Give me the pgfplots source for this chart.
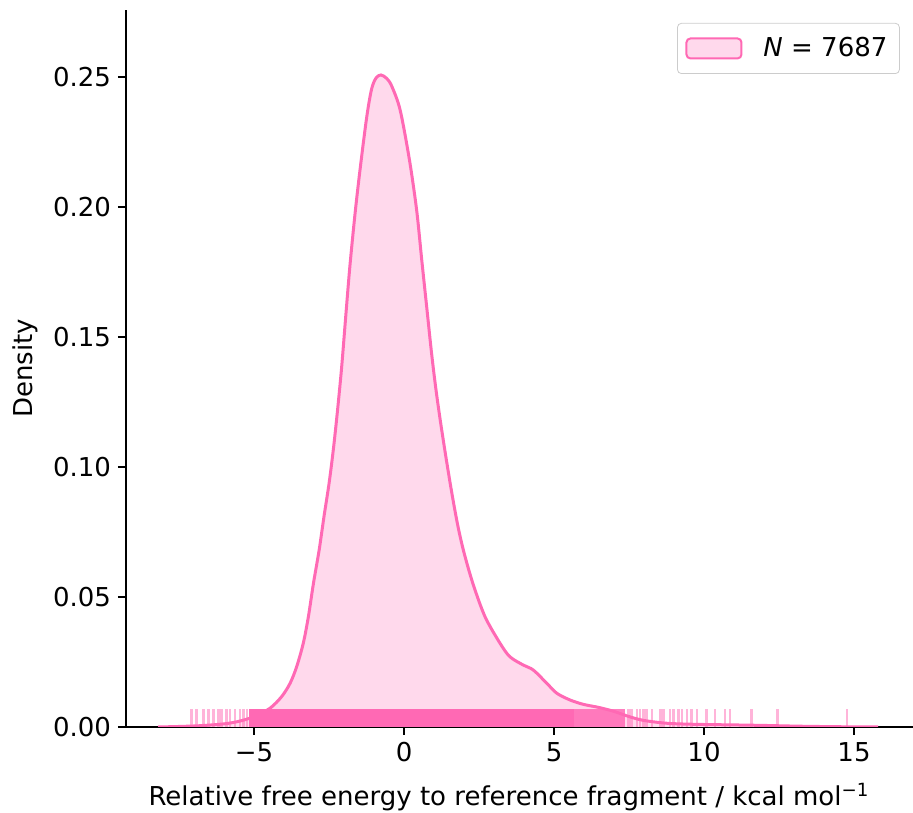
\documentclass[border=0pt]{standalone}
\usepackage{fontspec}
\setmainfont{DejaVu Sans}
\usepackage{pgfplots}
\pgfplotsset{compat=1.18}
\usetikzlibrary{calc}
\definecolor{hotpink}{RGB}{255,105,180}
\definecolor{pinkfill}{RGB}{255,217,236}
\pgfplotsset{pinklegend/.style={legend image code/.code={\draw[#1] (0pt,-5pt) rectangle (27.5pt,5pt); \path (36pt,0pt);}}}
\begin{document}
\begin{tikzpicture}
\begin{axis}[
  scale only axis,
  width=394pt, height=358.5pt,
  xmin=-9.27, xmax=17.0,
  ymin=0, ymax=0.2758,
  axis x line=bottom, axis y line=left,
  axis line style={-, line width=0.9pt, black},
  tick style={line width=0.9pt, black},
  tick align=outside,
  major tick length=4pt,
  xtick={-5,0,5,10,15},
  xticklabels={−5,0,5,10,15},
  ytick={0,0.05,0.10,0.15,0.20,0.25},
  yticklabels={0.00,0.05,0.10,0.15,0.20,0.25},
  ticklabel style={font=\fontsize{13}{15}\selectfont},
  label style={font=\fontsize{13}{15}\selectfont},
  xlabel={Relative free energy to reference fragment / kcal mol\textsuperscript{−1}},
  ylabel={Density},
  xlabel style={at={(rel axis cs:0,0)}, xshift=191.5pt, yshift=-35pt, anchor=center},
  ylabel style={at={(rel axis cs:0,0.5)}, yshift=50.5pt, anchor=center},
  legend style={at={(0.982,0.982)}, anchor=north east, draw=black!20, rounded corners=2pt,
    fill=white, font=\fontsize{13}{15}\selectfont, inner xsep=4pt, inner ysep=5pt},
  legend cell align=left,
]
% KDE fill
\addplot[fill=pinkfill, draw=none, smooth, forget plot] coordinates {
(-8.2,0) (-7.5,0.0002) (-6.8,0.0005) (-6.0,0.0012) (-5.5,0.0022) (-5.0,0.0040)
(-4.47,0.0072) (-4.08,0.0117) (-3.8,0.0168) (-3.58,0.0232) (-3.36,0.0322) (-3.19,0.0424)
(-3.02,0.0553) (-2.83,0.0681) (-2.67,0.0809) (-2.5,0.0937) (-2.36,0.1065) (-2.24,0.1193)
(-2.13,0.1322) (-2.06,0.1412) (-1.93,0.1600) (-1.80,0.1780) (-1.62,0.1990) (-1.44,0.2170)
(-1.24,0.2350) (-1.08,0.2455) (-0.93,0.2497) (-0.77,0.2508) (-0.58,0.2495) (-0.41,0.2465)
(-0.13,0.2373) (0.18,0.2181) (0.42,0.1988) (0.59,0.1796) (0.76,0.1610) (0.91,0.1445)
(1.05,0.1310) (1.2,0.1185) (1.4,0.1035) (1.6,0.0895) (1.8,0.0770) (2.0,0.0670)
(2.3,0.0550) (2.7,0.0424) (3.2,0.0322) (3.53,0.0270) (3.98,0.0238) (4.31,0.0219)
(4.76,0.0168) (5.09,0.0130) (5.53,0.0104) (5.98,0.0087) (6.5,0.0075) (7.0,0.0060)
(7.5,0.0040) (8.0,0.0025) (8.8,0.0014) (9.8,0.0010) (10.97,0.0008) (12.0,0.0006)
(13.2,0.0003) (14.5,0.0001) (15.8,0)
} \closedcycle;
% rug: dense part
\addplot[ycomb, draw=hotpink, line width=1.6pt, mark=none, forget plot] coordinates {
(-5.1,0.0069) (-5.0,0.0069) (-4.9,0.0069) (-4.8,0.0069) (-4.7,0.0069) (-4.6,0.0069)
(-4.5,0.0069) (-4.4,0.0069) (-4.3,0.0069) (-4.2,0.0069) (-4.1,0.0069) (-4.0,0.0069)
(-3.9,0.0069) (-3.8,0.0069) (-3.7,0.0069) (-3.6,0.0069) (-3.5,0.0069) (-3.4,0.0069)
(-3.3,0.0069) (-3.2,0.0069) (-3.1,0.0069) (-3.0,0.0069) (-2.9,0.0069) (-2.8,0.0069)
(-2.7,0.0069) (-2.6,0.0069) (-2.5,0.0069) (-2.4,0.0069) (-2.3,0.0069) (-2.2,0.0069)
(-2.1,0.0069) (-2.0,0.0069) (-1.9,0.0069) (-1.8,0.0069) (-1.7,0.0069) (-1.6,0.0069)
(-1.5,0.0069) (-1.4,0.0069) (-1.3,0.0069) (-1.2,0.0069) (-1.1,0.0069) (-1.0,0.0069)
(-0.9,0.0069) (-0.8,0.0069) (-0.7,0.0069) (-0.6,0.0069) (-0.5,0.0069) (-0.4,0.0069)
(-0.3,0.0069) (-0.2,0.0069) (-0.1,0.0069) (0.0,0.0069) (0.1,0.0069) (0.2,0.0069)
(0.3,0.0069) (0.4,0.0069) (0.5,0.0069) (0.6,0.0069) (0.7,0.0069) (0.8,0.0069)
(0.9,0.0069) (1.0,0.0069) (1.1,0.0069) (1.2,0.0069) (1.3,0.0069) (1.4,0.0069)
(1.5,0.0069) (1.6,0.0069) (1.7,0.0069) (1.8,0.0069) (1.9,0.0069) (2.0,0.0069)
(2.1,0.0069) (2.2,0.0069) (2.3,0.0069) (2.4,0.0069) (2.5,0.0069) (2.6,0.0069)
(2.7,0.0069) (2.8,0.0069) (2.9,0.0069) (3.0,0.0069) (3.1,0.0069) (3.2,0.0069)
(3.3,0.0069) (3.4,0.0069) (3.5,0.0069) (3.6,0.0069) (3.7,0.0069) (3.8,0.0069)
(3.9,0.0069) (4.0,0.0069) (4.1,0.0069) (4.2,0.0069) (4.3,0.0069) (4.4,0.0069)
(4.5,0.0069) (4.6,0.0069) (4.7,0.0069) (4.8,0.0069) (4.9,0.0069) (5.0,0.0069)
(5.1,0.0069) (5.2,0.0069) (5.3,0.0069) (5.4,0.0069) (5.5,0.0069) (5.6,0.0069)
};
% rug: semi-dense part
\addplot[ycomb, draw=hotpink, draw opacity=0.85, line width=1.5pt, mark=none, forget plot] coordinates {
(5.7,0.0069) (5.8,0.0069) (5.9,0.0069) (6.0,0.0069) (6.1,0.0069) (6.2,0.0069)
(6.3,0.0069) (6.4,0.0069) (6.5,0.0069) (6.6,0.0069) (6.7,0.0069) (6.8,0.0069)
(6.9,0.0069) (7.0,0.0069) (7.1,0.0069) (7.2,0.0069) (7.3,0.0069)
};
% rug: sparse tails
\addplot[ycomb, draw=hotpink, draw opacity=0.5, line width=1.3pt, mark=none, forget plot] coordinates {
(-7.08,0.0069) (-6.91,0.0069) (-6.69,0.0069) (-6.52,0.0069) (-6.36,0.0069) (-6.19,0.0069)
(-6.08,0.0069) (-5.91,0.0069) (-5.80,0.0069) (-5.63,0.0069) (-5.47,0.0069) (-5.36,0.0069)
(-5.24,0.0069)
(7.48,0.0069) (7.59,0.0069) (7.76,0.0069) (7.87,0.0069) (7.98,0.0069) (8.09,0.0069)
(8.26,0.0069) (8.54,0.0069) (8.65,0.0069) (8.87,0.0069) (8.98,0.0069) (9.15,0.0069)
(9.26,0.0069) (9.43,0.0069) (9.59,0.0069) (9.76,0.0069) (10.09,0.0069) (10.37,0.0069)
(10.70,0.0069) (10.87,0.0069) (11.59,0.0069) (12.45,0.0069) (14.76,0.0069)
};
% KDE line
\addplot[draw=hotpink, line width=1.5pt, smooth, mark=none, forget plot] coordinates {
(-8.2,0) (-7.5,0.0002) (-6.8,0.0005) (-6.0,0.0012) (-5.5,0.0022) (-5.0,0.0040)
(-4.47,0.0072) (-4.08,0.0117) (-3.8,0.0168) (-3.58,0.0232) (-3.36,0.0322) (-3.19,0.0424)
(-3.02,0.0553) (-2.83,0.0681) (-2.67,0.0809) (-2.5,0.0937) (-2.36,0.1065) (-2.24,0.1193)
(-2.13,0.1322) (-2.06,0.1412) (-1.93,0.1600) (-1.80,0.1780) (-1.62,0.1990) (-1.44,0.2170)
(-1.24,0.2350) (-1.08,0.2455) (-0.93,0.2497) (-0.77,0.2508) (-0.58,0.2495) (-0.41,0.2465)
(-0.13,0.2373) (0.18,0.2181) (0.42,0.1988) (0.59,0.1796) (0.76,0.1610) (0.91,0.1445)
(1.05,0.1310) (1.2,0.1185) (1.4,0.1035) (1.6,0.0895) (1.8,0.0770) (2.0,0.0670)
(2.3,0.0550) (2.7,0.0424) (3.2,0.0322) (3.53,0.0270) (3.98,0.0238) (4.31,0.0219)
(4.76,0.0168) (5.09,0.0130) (5.53,0.0104) (5.98,0.0087) (6.5,0.0075) (7.0,0.0060)
(7.5,0.0040) (8.0,0.0025) (8.8,0.0014) (9.8,0.0010) (10.97,0.0008) (12.0,0.0006)
(13.2,0.0003) (14.5,0.0001) (15.8,0)
};
\addlegendimage{draw=hotpink, fill=pinkfill, line width=1pt, pinklegend}
\addlegendentry{\textit{N} = 7687}
\end{axis}
\pgfresetboundingbox
\path[use as bounding box] ($(current axis.south west)+(-63pt,-43pt)$) rectangle ($(current axis.north east)+(-0.5pt,5pt)$);
\end{tikzpicture}
\end{document}
